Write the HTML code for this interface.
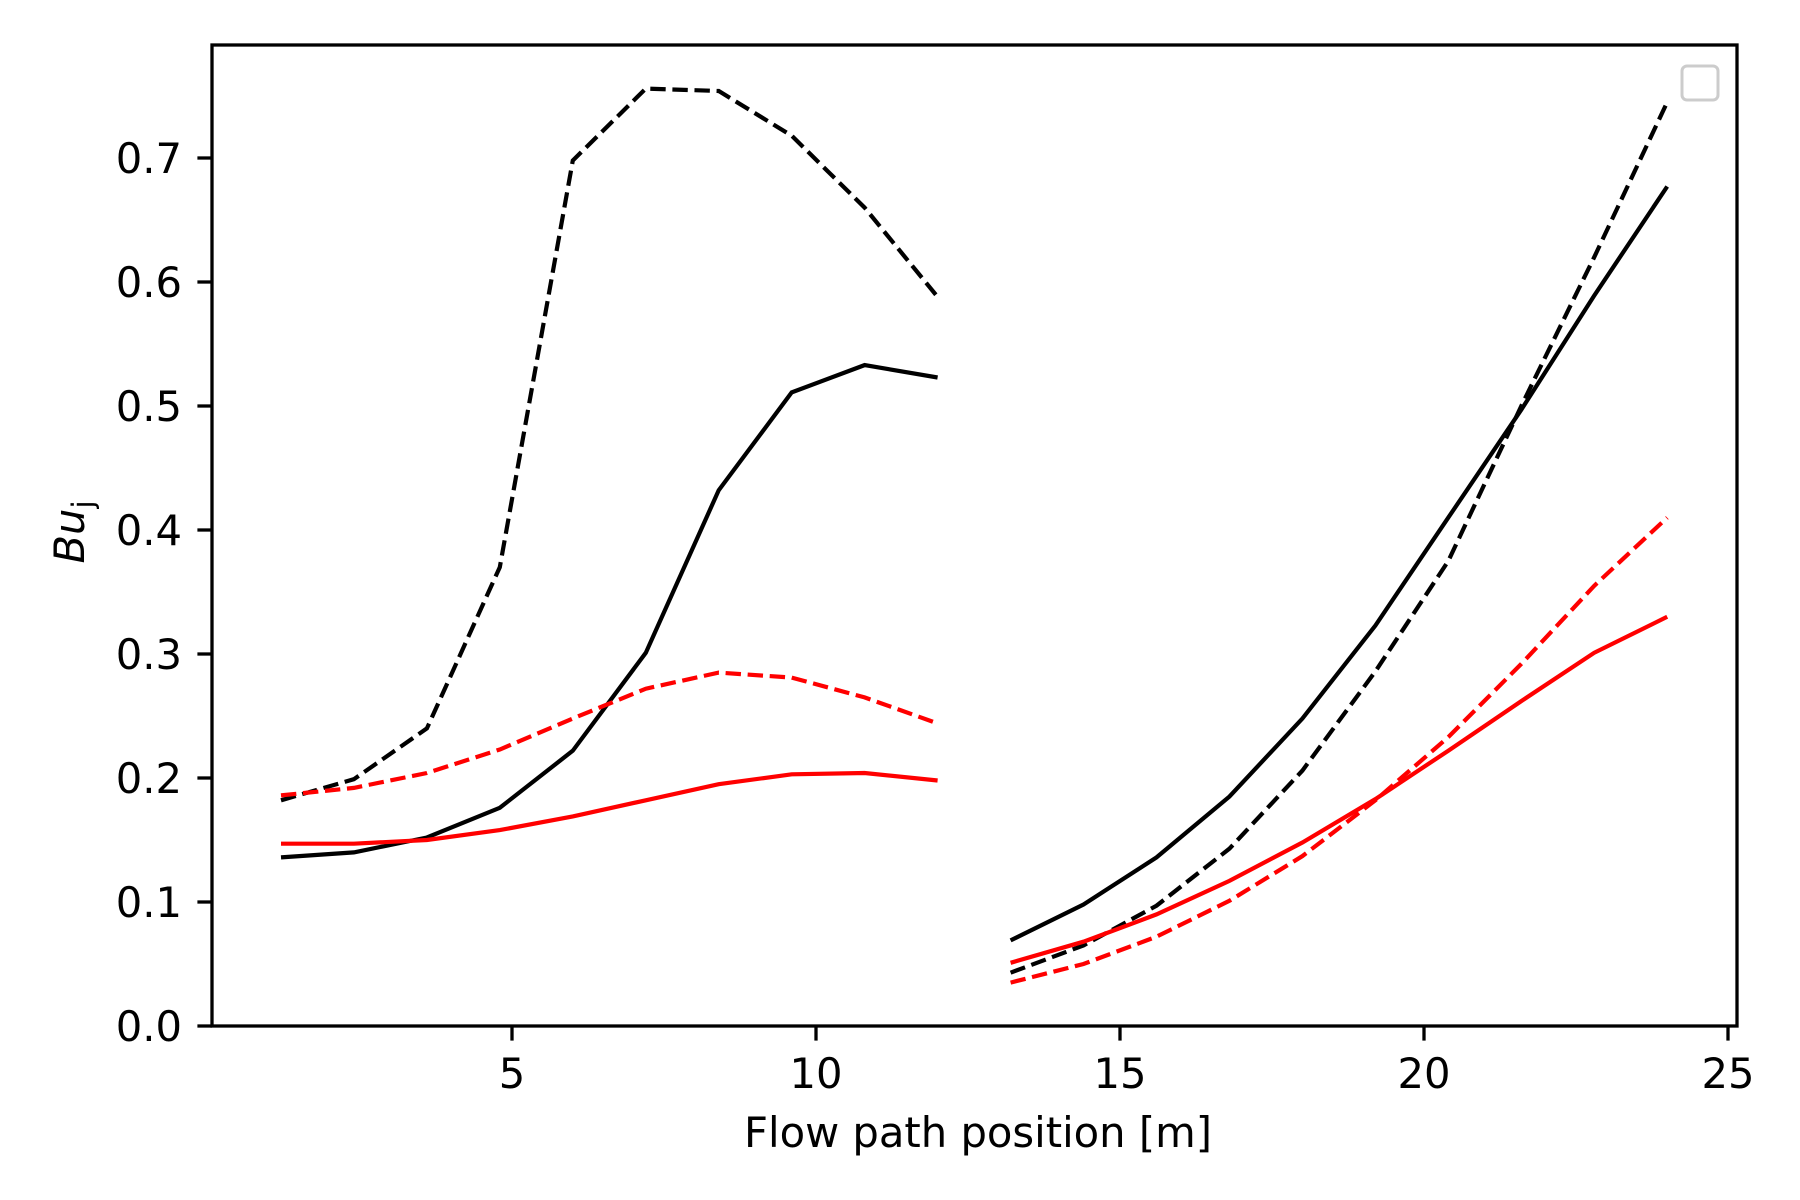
<!DOCTYPE html>
<html><head><meta charset="utf-8"><style>
html,body{margin:0;padding:0;background:#fff}
svg{display:block;font-family:"DejaVu Sans","Liberation Sans",sans-serif}
</style></head><body>
<svg id="chart" width="1800" height="1200" viewBox="0 0 1800 1200" xmlns="http://www.w3.org/2000/svg">
<rect x="0" y="0" width="1800" height="1200" fill="#fff"/>
<g id="plot"></g>
<rect x="212" y="45" width="1525" height="981" fill="none" stroke="#000" stroke-width="3.3"/>
<g id="xticks"></g>
<g id="yticks"></g>
<text x="978" y="1147" font-size="41.7" text-anchor="middle">Flow path position [m]</text>
<text transform="translate(84,532) rotate(-90)" font-size="41.7" text-anchor="middle"><tspan font-style="italic">Bu</tspan><tspan font-size="29" dy="9">j</tspan></text>
<rect x="1682" y="66" width="36" height="34" rx="5" fill="#fff" stroke="#ccc" stroke-width="3"/>
</svg>
<script>
const xLeft = [1.2,2.4,3.6,4.8,6.0,7.2,8.4,9.6,10.8,12.0];
const xRight = [13.2,14.4,15.6,16.8,18.0,19.2,20.4,21.6,22.8,24.0];
const blackDashedLeft = [0.182,0.199,0.240,0.370,0.698,0.756,0.754,0.718,0.660,0.588];
const blackSolidLeft = [0.136,0.140,0.152,0.176,0.222,0.301,0.432,0.511,0.533,0.523];
const redDashedLeft = [0.186,0.192,0.204,0.223,0.248,0.272,0.285,0.281,0.265,0.244];
const redSolidLeft = [0.147,0.147,0.150,0.158,0.169,0.182,0.195,0.203,0.204,0.198];
const blackSolidRight = [0.069,0.098,0.136,0.185,0.248,0.323,0.410,0.497,0.589,0.677];
const blackDashedRight = [0.043,0.065,0.097,0.143,0.206,0.286,0.375,0.500,0.620,0.745];
const redSolidRight = [0.051,0.068,0.090,0.117,0.148,0.183,0.222,0.262,0.301,0.330];
const redDashedRight = [0.035,0.050,0.072,0.101,0.137,0.182,0.233,0.292,0.355,0.410];
const xTickValues = [5,10,15,20,25];
const yTickValues = [0,0.1,0.2,0.3,0.4,0.5,0.6,0.7];
const yTickLabels = ["0.0","0.1","0.2","0.3","0.4","0.5","0.6","0.7"];

const NS = "http://www.w3.org/2000/svg";
function sx(v){ return 512 + (v - 5) * 60.8; }
function sy(v){ return 1026 - v * 1240; }

const plot = document.getElementById('plot');
function drawLine(xs, ys, color, dashed, name){
  const p = document.createElementNS(NS,'polyline');
  p.setAttribute('points', xs.map((x,i)=>sx(x).toFixed(1)+','+sy(ys[i]).toFixed(1)).join(' '));
  p.setAttribute('fill','none');
  p.setAttribute('stroke',color);
  p.setAttribute('stroke-width','4.2');
  if(dashed) p.setAttribute('stroke-dasharray','15.4 6.7');
  
  
  plot.appendChild(p);
}
drawLine(xLeft, blackDashedLeft, '#000', true, 'black-dashed-left');
drawLine(xLeft, blackSolidLeft, '#000', false, 'black-solid-left');
drawLine(xLeft, redDashedLeft, '#f00', true, 'red-dashed-left');
drawLine(xLeft, redSolidLeft, '#f00', false, 'red-solid-left');
drawLine(xRight, blackSolidRight, '#000', false, 'black-solid-right');
drawLine(xRight, blackDashedRight, '#000', true, 'black-dashed-right');
drawLine(xRight, redSolidRight, '#f00', false, 'red-solid-right');
drawLine(xRight, redDashedRight, '#f00', true, 'red-dashed-right');

const xg = document.getElementById('xticks');
xTickValues.forEach(v=>{
  const l = document.createElementNS(NS,'line');
  l.setAttribute('x1',sx(v)); l.setAttribute('x2',sx(v));
  l.setAttribute('y1',1026); l.setAttribute('y2',1040.6);
  l.setAttribute('stroke','#000'); l.setAttribute('stroke-width','3.3');
  
  
  xg.appendChild(l);
  const t = document.createElementNS(NS,'text');
  t.setAttribute('x',sx(v)); t.setAttribute('y',1088);
  t.setAttribute('font-size','41.7'); t.setAttribute('text-anchor','middle');
  t.textContent = String(v);
  
  
  xg.appendChild(t);
});
const yg = document.getElementById('yticks');
yTickValues.forEach((v,i)=>{
  const l = document.createElementNS(NS,'line');
  l.setAttribute('x1',197.4); l.setAttribute('x2',212);
  l.setAttribute('y1',sy(v)); l.setAttribute('y2',sy(v));
  l.setAttribute('stroke','#000'); l.setAttribute('stroke-width','3.3');
  
  
  yg.appendChild(l);
  const t = document.createElementNS(NS,'text');
  t.setAttribute('x',182); t.setAttribute('y',sy(v)+15);
  t.setAttribute('font-size','41.7'); t.setAttribute('text-anchor','end');
  t.textContent = yTickLabels[i];
  
  
  yg.appendChild(t);
});
</script>
</body></html>
